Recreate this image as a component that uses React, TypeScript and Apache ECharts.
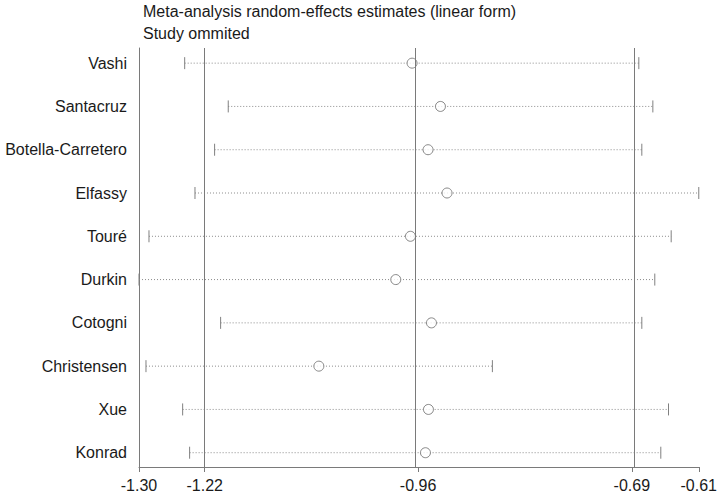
import React, { useEffect, useRef } from "react";
import * as echarts from "echarts";

// Leave-one-out estimates: each row is the pooled result with that study omitted
const studies = [
  "Vashi",
  "Santacruz",
  "Botella-Carretero",
  "Elfassy",
  "Touré",
  "Durkin",
  "Cotogni",
  "Christensen",
  "Xue",
  "Konrad",
];
const estimates = [-0.9634, -0.9284, -0.9437, -0.9203, -0.9654, -0.9835, -0.9395, -1.0783, -0.9432, -0.9469];
const lowerCI = [-1.2437, -1.19, -1.2068, -1.231, -1.2877, -1.3, -1.1994, -1.2914, -1.2462, -1.2376];
const upperCI = [-0.6839, -0.6666, -0.6802, -0.61, -0.644, -0.6642, -0.6802, -0.8644, -0.6473, -0.6568];

// Overall pooled estimate and its confidence bounds
const pooledLower = -1.219;
const pooledEstimate = -0.956;
const pooledUpper = -0.6925;

const axisMin = -1.3;
const axisMax = -0.61;
const axisTickValues = [axisMin, pooledLower, pooledEstimate, pooledUpper, axisMax];

const FONT = "'Liberation Sans', Arial, sans-serif";

export default function App() {
  const ref = useRef<HTMLDivElement>(null);

  useEffect(() => {
    if (!ref.current) return;
    const chart = echarts.init(ref.current, null, { renderer: "svg" });

    const rows = studies.map((_, i) => i + 1);
    const ciData = studies.map((_, i) => [lowerCI[i], upperCI[i], rows[i]]);
    const pointData = studies.map((_, i) => [estimates[i], rows[i]]);

    const option: any = {
      animation: false,
      backgroundColor: "#ffffff",
      textStyle: { fontFamily: FONT },
      title: {
        text: "Meta-analysis random-effects estimates (linear form)\nStudy ommited",
        left: 143,
        top: 0,
        padding: 0,
        textStyle: {
          fontFamily: FONT,
          fontSize: 16,
          fontWeight: "normal",
          color: "#1a1a1a",
          lineHeight: 22,
        },
      },
      grid: { left: 139, right: 21, top: 48, bottom: 27 },
      xAxis: {
        type: "value",
        min: axisMin,
        max: axisMax,
        splitLine: { show: false },
        axisLine: { show: true, lineStyle: { color: "#7a7a7a", width: 1 } },
        axisTick: {
          show: true,
          length: 5,
          customValues: axisTickValues,
          lineStyle: { color: "#7a7a7a" },
        },
        axisLabel: {
          customValues: axisTickValues,
          showMinLabel: true,
          showMaxLabel: true,
          formatter: (v: number) => v.toFixed(2),
          fontFamily: FONT,
          fontSize: 16,
          color: "#1a1a1a",
          margin: 10,
        },
      },
      yAxis: {
        type: "value",
        min: 0.65,
        max: 10.33,
        inverse: true,
        splitLine: { show: false },
        axisLine: { show: true, lineStyle: { color: "#7a7a7a", width: 1 } },
        axisTick: { show: false },
        axisLabel: {
          customValues: rows,
          formatter: (v: number) => studies[Math.round(v) - 1] ?? "",
          fontFamily: FONT,
          fontSize: 16,
          color: "#1a1a1a",
          margin: 12,
        },
      },
      series: [
        {
          type: "custom",
          name: "CI",
          data: ciData,
          encode: { x: [0, 1], y: 2 },
          renderItem: (_params: any, api: any) => {
            const y = api.value(2);
            const p0 = api.coord([api.value(0), y]);
            const p1 = api.coord([api.value(1), y]);
            const cap = 6;
            return {
              type: "group",
              children: [
                {
                  type: "line",
                  shape: { x1: p0[0], y1: p0[1], x2: p1[0], y2: p1[1] },
                  style: { stroke: "#8c8c8c", lineWidth: 1, lineDash: [1, 2] },
                },
                {
                  type: "line",
                  shape: { x1: p0[0], y1: p0[1] - cap, x2: p0[0], y2: p0[1] + cap },
                  style: { stroke: "#808080", lineWidth: 1 },
                },
                {
                  type: "line",
                  shape: { x1: p1[0], y1: p1[1] - cap, x2: p1[0], y2: p1[1] + cap },
                  style: { stroke: "#808080", lineWidth: 1 },
                },
              ],
            };
          },
          markLine: {
            silent: true,
            symbol: "none",
            label: { show: false },
            lineStyle: { color: "#7a7a7a", type: "solid", width: 1 },
            data: [{ xAxis: pooledLower }, { xAxis: pooledEstimate }, { xAxis: pooledUpper }],
          },
          z: 2,
        },
        {
          type: "scatter",
          name: "Estimate",
          data: pointData,
          symbol: "circle",
          symbolSize: 10,
          itemStyle: { color: "#ffffff", borderColor: "#6a6a6a", borderWidth: 1 },
          z: 3,
        },
      ],
    };

    chart.setOption(option);
    return () => chart.dispose();
  }, []);

  return <div ref={ref} style={{ width: 720, height: 494, position: "absolute", left: 0, top: 0 }} />;
}
